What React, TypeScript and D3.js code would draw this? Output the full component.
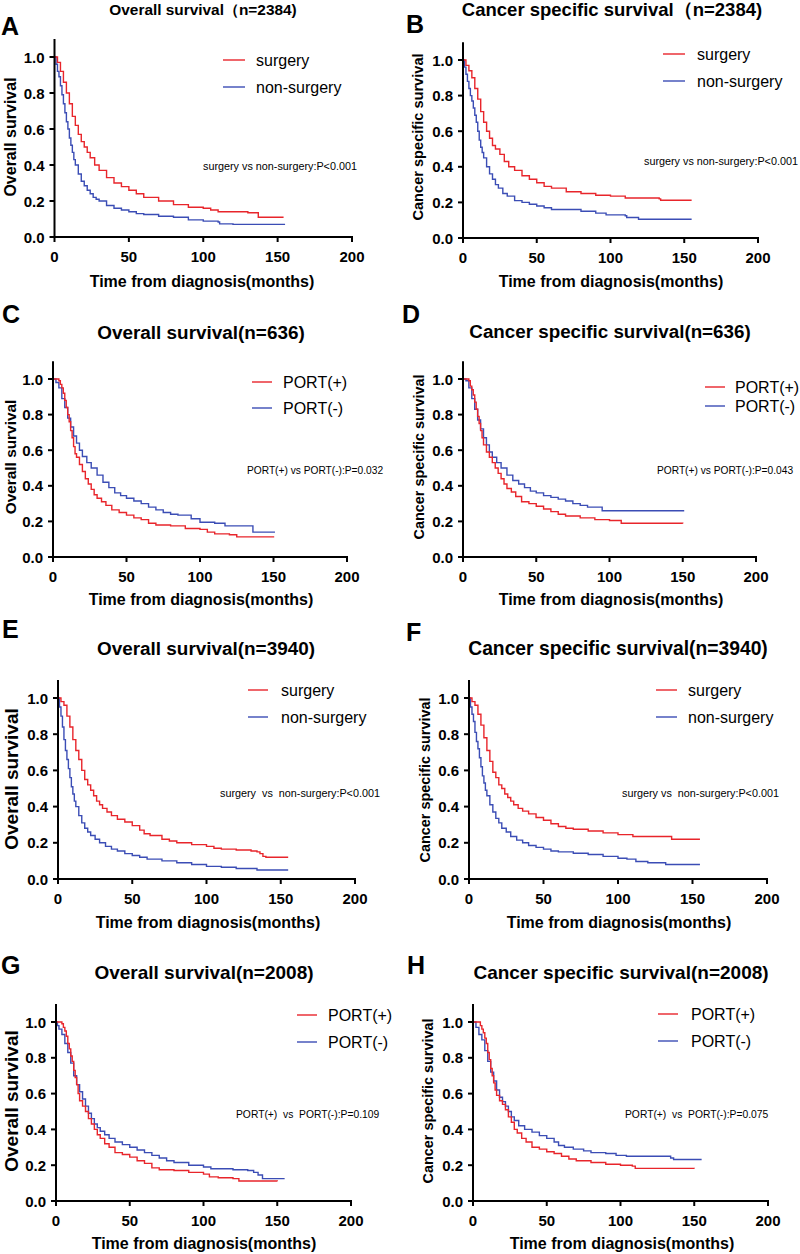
import React from "react";
import * as d3 from "d3";

type Pt = [number, number];

// ---------- Data (time in months, survival probability) ----------
const A_surgery: Pt[] = [[0,1],[2,0.97],[4,0.92],[6,0.86],[8,0.8],[10,0.74],[12,0.67],[14,0.62],[16,0.57],[18,0.53],[20,0.5],[22,0.47],[24,0.44],[27,0.4],[30,0.37],[35,0.33],[40,0.3],[45,0.28],[50,0.26],[55,0.24],[60,0.22],[70,0.2],[80,0.18],[90,0.165],[100,0.16],[105,0.15],[110,0.14],[120,0.14],[130,0.135],[137,0.11],[154,0.11]];
const A_non: Pt[] = [[0,1],[1,0.96],[2,0.92],[3,0.89],[4,0.84],[5,0.79],[6,0.74],[7,0.69],[8,0.64],[9,0.6],[10,0.55],[11,0.51],[12,0.47],[13,0.43],[14,0.4],[16,0.35],[18,0.31],[20,0.285],[22,0.26],[24,0.24],[26,0.22],[28,0.21],[30,0.2],[35,0.175],[40,0.16],[45,0.15],[50,0.14],[55,0.13],[60,0.125],[70,0.115],[80,0.11],[90,0.095],[100,0.088],[110,0.083],[111,0.073],[120,0.07],[155,0.07]];

const B_surgery: Pt[] = [[0,1],[2,0.97],[4,0.94],[6,0.9],[8,0.84],[10,0.78],[12,0.71],[14,0.65],[16,0.6],[18,0.56],[20,0.52],[22,0.5],[25,0.47],[28,0.43],[31,0.4],[35,0.38],[40,0.35],[45,0.33],[50,0.31],[55,0.29],[60,0.28],[70,0.26],[80,0.25],[90,0.24],[100,0.235],[110,0.225],[120,0.225],[133,0.22],[134,0.212],[155,0.212]];
const B_non: Pt[] = [[0,1],[1,0.96],[2,0.92],[3,0.88],[4,0.84],[5,0.8],[6,0.77],[7,0.73],[8,0.69],[9,0.65],[10,0.6],[11,0.55],[12,0.51],[13,0.48],[14,0.45],[16,0.4],[18,0.36],[20,0.33],[22,0.3],[24,0.28],[27,0.25],[30,0.235],[35,0.21],[40,0.2],[45,0.19],[50,0.18],[55,0.17],[60,0.16],[70,0.16],[80,0.15],[90,0.14],[97,0.13],[110,0.125],[111,0.115],[119,0.105],[155,0.105]];

const C_portPos: Pt[] = [[0,1],[3,1],[4,0.99],[5,0.97],[6,0.95],[7,0.92],[8,0.88],[9,0.84],[10,0.8],[11,0.76],[12,0.71],[13,0.67],[14,0.62],[15,0.58],[16,0.56],[18,0.52],[20,0.48],[22,0.44],[24,0.41],[26,0.38],[28,0.35],[30,0.33],[33,0.31],[36,0.29],[40,0.265],[45,0.25],[50,0.235],[55,0.22],[60,0.21],[65,0.19],[70,0.18],[80,0.175],[90,0.16],[100,0.155],[105,0.14],[110,0.13],[120,0.125],[125,0.113],[150,0.11]];
const C_portNeg: Pt[] = [[0,1],[2,0.98],[4,0.95],[6,0.89],[8,0.84],[10,0.78],[12,0.73],[14,0.68],[16,0.64],[18,0.6],[20,0.565],[23,0.53],[26,0.5],[30,0.46],[34,0.42],[38,0.39],[42,0.36],[46,0.345],[50,0.33],[55,0.315],[60,0.3],[65,0.28],[70,0.265],[75,0.25],[80,0.24],[85,0.235],[94,0.215],[100,0.195],[110,0.19],[117,0.175],[136,0.14],[151,0.14]];

const D_portPos: Pt[] = [[0,1],[3,1],[4,0.99],[5,0.96],[6,0.94],[7,0.91],[8,0.87],[9,0.83],[10,0.79],[11,0.75],[12,0.71],[13,0.67],[14,0.63],[16,0.59],[18,0.56],[20,0.53],[22,0.5],[24,0.47],[26,0.44],[28,0.41],[30,0.385],[33,0.365],[36,0.34],[40,0.31],[45,0.3],[50,0.285],[55,0.27],[60,0.255],[65,0.24],[70,0.23],[80,0.22],[90,0.21],[100,0.205],[108,0.19],[150,0.188]];
const D_portNeg: Pt[] = [[0,1],[2,0.99],[4,0.95],[6,0.89],[8,0.83],[10,0.77],[12,0.72],[14,0.67],[16,0.63],[18,0.59],[20,0.56],[23,0.53],[26,0.5],[30,0.46],[34,0.43],[38,0.41],[42,0.39],[46,0.37],[50,0.36],[55,0.345],[60,0.335],[65,0.325],[70,0.315],[75,0.3],[80,0.29],[85,0.28],[95,0.26],[151,0.26]];

const E_surgery: Pt[] = [[0,1],[2,0.98],[4,0.96],[6,0.9],[8,0.84],[10,0.77],[12,0.71],[14,0.66],[16,0.6],[18,0.55],[20,0.52],[22,0.49],[24,0.46],[26,0.43],[28,0.41],[30,0.39],[33,0.37],[36,0.35],[40,0.33],[45,0.315],[50,0.295],[55,0.27],[58,0.25],[62,0.24],[70,0.22],[75,0.21],[80,0.2],[90,0.19],[100,0.18],[105,0.17],[110,0.165],[120,0.16],[130,0.155],[134,0.15],[136,0.14],[138,0.125],[140,0.12],[155,0.12]];
const E_non: Pt[] = [[0,1],[1,0.95],[2,0.9],[3,0.84],[4,0.77],[5,0.71],[6,0.66],[7,0.61],[8,0.56],[9,0.51],[10,0.47],[11,0.43],[12,0.4],[14,0.35],[16,0.31],[18,0.28],[20,0.26],[22,0.24],[25,0.22],[28,0.2],[32,0.18],[36,0.165],[40,0.155],[45,0.14],[50,0.13],[55,0.12],[60,0.11],[70,0.1],[80,0.09],[90,0.08],[100,0.07],[110,0.065],[120,0.058],[134,0.05],[155,0.05]];

const F_surgery: Pt[] = [[0,1],[2,0.98],[4,0.96],[6,0.91],[8,0.85],[10,0.78],[12,0.71],[14,0.65],[16,0.59],[18,0.56],[20,0.52],[22,0.5],[24,0.47],[26,0.45],[28,0.43],[30,0.41],[33,0.39],[36,0.375],[40,0.36],[45,0.34],[50,0.325],[55,0.305],[60,0.29],[65,0.28],[70,0.275],[80,0.265],[90,0.255],[100,0.245],[110,0.235],[120,0.235],[133,0.235],[136,0.22],[155,0.22]];
const F_non: Pt[] = [[0,1],[1,0.95],[2,0.91],[3,0.87],[4,0.81],[5,0.76],[6,0.72],[7,0.67],[8,0.62],[9,0.57],[10,0.53],[11,0.49],[12,0.46],[14,0.41],[16,0.37],[18,0.335],[20,0.31],[22,0.28],[25,0.26],[28,0.235],[32,0.215],[36,0.2],[40,0.185],[45,0.175],[50,0.165],[55,0.155],[60,0.15],[70,0.142],[80,0.135],[90,0.125],[100,0.115],[106,0.11],[112,0.097],[120,0.09],[132,0.08],[155,0.08]];

const G_portPos: Pt[] = [[0,1],[3,1],[4,0.99],[5,0.97],[6,0.95],[7,0.92],[8,0.88],[9,0.85],[10,0.81],[11,0.78],[12,0.73],[13,0.69],[14,0.65],[15,0.6],[16,0.56],[18,0.53],[20,0.5],[22,0.46],[24,0.43],[26,0.4],[28,0.37],[30,0.35],[33,0.32],[36,0.3],[40,0.27],[45,0.26],[50,0.245],[55,0.225],[60,0.21],[65,0.185],[70,0.175],[80,0.17],[90,0.16],[100,0.15],[104,0.135],[110,0.13],[120,0.125],[124,0.112],[150,0.11]];
const G_portNeg: Pt[] = [[0,1],[1,0.98],[2,0.96],[4,0.93],[6,0.88],[8,0.83],[10,0.77],[12,0.7],[14,0.65],[16,0.61],[18,0.57],[20,0.53],[22,0.49],[24,0.46],[26,0.43],[28,0.41],[30,0.39],[33,0.37],[36,0.35],[40,0.33],[45,0.315],[50,0.3],[55,0.285],[60,0.27],[65,0.255],[70,0.24],[75,0.225],[80,0.215],[90,0.2],[100,0.19],[105,0.18],[120,0.175],[130,0.17],[134,0.16],[137,0.145],[140,0.125],[155,0.125]];

const H_portPos: Pt[] = [[0,1],[4,1],[5,0.98],[6,0.96],[7,0.94],[8,0.91],[9,0.88],[10,0.83],[11,0.79],[12,0.74],[13,0.7],[14,0.66],[15,0.62],[16,0.59],[18,0.56],[20,0.54],[22,0.51],[24,0.47],[26,0.44],[28,0.4],[30,0.38],[33,0.35],[36,0.33],[40,0.3],[45,0.29],[50,0.275],[55,0.265],[60,0.25],[65,0.235],[70,0.225],[80,0.215],[90,0.205],[100,0.2],[108,0.195],[110,0.182],[150,0.181]];
const H_portNeg: Pt[] = [[0,1],[2,0.97],[4,0.93],[6,0.9],[8,0.84],[10,0.78],[12,0.72],[14,0.67],[16,0.62],[18,0.58],[20,0.555],[22,0.53],[24,0.5],[26,0.47],[28,0.45],[31,0.42],[35,0.4],[40,0.385],[45,0.365],[50,0.35],[55,0.33],[58,0.31],[62,0.3],[68,0.29],[75,0.28],[80,0.27],[90,0.265],[97,0.255],[104,0.25],[126,0.25],[134,0.24],[136,0.232],[155,0.232]];

const X_TICKS = [0, 50, 100, 150, 200];
const Y_TICKS = [0, 0.2, 0.4, 0.6, 0.8, 1.0];

const SURGERY_NAMES = ["surgery", "non-surgery"];
const PORT_NAMES = ["PORT(+)", "PORT(-)"];

const RED = "#e8252b";
const BLUE = "#3b4db5";
const FONT = "'Liberation Sans', Arial, Helvetica, sans-serif";

type Cfg = {
  letter: string; lx: number; ly: number;
  title: string; tx: number; ty: number; tsize: number;
  ylab: string; ylx: number; yly: number; ylsize: number;
  xlx: number; xly: number;
  left: number; right: number; y1: number; y0: number;
  legX1: number; legX2: number; legTx: number; legYa: number; legYb: number;
  names: string[];
  ptext: string; px: number; py: number; psize: number;
  red: Pt[]; blue: Pt[];
};

const PANELS: Cfg[] = [
  { letter: "A", lx: 1, ly: 35, title: "Overall survival（n=2384)", tx: 203, ty: 15, tsize: 15.4,
    ylab: "Overall survival", ylx: 16, yly: 137, ylsize: 16,
    xlx: 202, xly: 287, left: 54.5, right: 352, y1: 57, y0: 237,
    legX1: 223, legX2: 245, legTx: 256, legYa: 60, legYb: 87, names: SURGERY_NAMES,
    ptext: "surgery vs non-surgery:P<0.001", px: 203, py: 170, psize: 10.8, red: A_surgery, blue: A_non },
  { letter: "B", lx: 406, ly: 33, title: "Cancer specific survival（n=2384)", tx: 612, ty: 16, tsize: 18.5,
    ylab: "Cancer specific survival", ylx: 423, yly: 137, ylsize: 14.6,
    xlx: 611, xly: 287, left: 463, right: 758, y1: 60, y0: 238,
    legX1: 663, legX2: 685, legTx: 697, legYa: 54, legYb: 81, names: SURGERY_NAMES,
    ptext: "surgery vs non-surgery:P<0.001", px: 644, py: 165, psize: 10.8, red: B_surgery, blue: B_non },
  { letter: "C", lx: 2, ly: 323, title: "Overall survival(n=636)", tx: 201, ty: 339, tsize: 18.9,
    ylab: "Overall survival", ylx: 16, yly: 457, ylsize: 15.4,
    xlx: 201, xly: 605, left: 53, right: 347, y1: 379, y0: 557,
    legX1: 252, legX2: 272, legTx: 283, legYa: 382, legYb: 408, names: PORT_NAMES,
    ptext: "PORT(+) vs PORT(-):P=0.032", px: 247, py: 474, psize: 10.2, red: C_portPos, blue: C_portNeg },
  { letter: "D", lx: 402, ly: 323, title: "Cancer specific survival(n=636)", tx: 610, ty: 338, tsize: 18.8,
    ylab: "Cancer specific survival", ylx: 424, yly: 457, ylsize: 14.4,
    xlx: 611, xly: 605, left: 463, right: 756, y1: 379, y0: 557,
    legX1: 705, legX2: 725, legTx: 735, legYa: 387, legYb: 406, names: PORT_NAMES,
    ptext: "PORT(+) vs PORT(-):P=0.043", px: 657, py: 474, psize: 10.2, red: D_portPos, blue: D_portNeg },
  { letter: "E", lx: 2, ly: 638, title: "Overall survival(n=3940)", tx: 206, ty: 655, tsize: 18.9,
    ylab: "Overall survival", ylx: 18, yly: 779, ylsize: 19,
    xlx: 208, xly: 928, left: 58, right: 355, y1: 698, y0: 879,
    legX1: 248, legX2: 268, legTx: 281, legYa: 690, legYb: 717, names: SURGERY_NAMES,
    ptext: "surgery  vs  non-surgery:P<0.001", px: 220, py: 797, psize: 10.8, red: E_surgery, blue: E_non },
  { letter: "F", lx: 406, ly: 641, title: "Cancer specific survival(n=3940)", tx: 618, ty: 655, tsize: 19.3,
    ylab: "Cancer specific survival", ylx: 430, yly: 780, ylsize: 14.4,
    xlx: 619, xly: 928, left: 469, right: 767, y1: 698, y0: 879,
    legX1: 656, legX2: 677, legTx: 688, legYa: 690, legYb: 717, names: SURGERY_NAMES,
    ptext: "surgery vs  non-surgery:P<0.001", px: 622, py: 797, psize: 10.8, red: F_surgery, blue: F_non },
  { letter: "G", lx: 1, ly: 974, title: "Overall survival(n=2008)", tx: 204, ty: 979, tsize: 19,
    ylab: "Overall survival", ylx: 18, yly: 1101, ylsize: 19,
    xlx: 204, xly: 1249, left: 56, right: 351, y1: 1022, y0: 1201,
    legX1: 297, legX2: 317, legTx: 328, legYa: 1015, legYb: 1042, names: PORT_NAMES,
    ptext: "PORT(+)  vs  PORT(-):P=0.109", px: 236, py: 1118, psize: 10.3, red: G_portPos, blue: G_portNeg },
  { letter: "H", lx: 407, ly: 974, title: "Cancer specific survival(n=2008)", tx: 621, ty: 979, tsize: 19,
    ylab: "Cancer specific survival", ylx: 433, yly: 1101, ylsize: 14.4,
    xlx: 622, xly: 1249, left: 473, right: 768, y1: 1022, y0: 1201,
    legX1: 658, legX2: 678, legTx: 691, legYa: 1014, legYb: 1041, names: PORT_NAMES,
    ptext: "PORT(+)  vs  PORT(-):P=0.075", px: 625, py: 1118, psize: 10.3, red: H_portPos, blue: H_portNeg },
];

function Panel({ c }: { c: Cfg }) {
  const x = d3.scaleLinear().domain([0, 200]).range([c.left, c.right]);
  const y = d3.scaleLinear().domain([0, 1]).range([c.y0, c.y1]);
  const line = d3.line<Pt>().x((d) => x(d[0])).y((d) => y(d[1])).curve(d3.curveStepAfter);
  const tickLen = 5;
  return (
    <g fontFamily={FONT}>
      <text x={c.lx} y={c.ly} fontSize={25} fontWeight="bold" fill="#000">{c.letter}</text>
      <text x={c.tx} y={c.ty} fontSize={c.tsize} fontWeight="bold" textAnchor="middle" fill="#000">{c.title}</text>
      <text transform={`translate(${c.ylx},${c.yly}) rotate(-90)`} fontSize={c.ylsize} fontWeight="bold" textAnchor="middle" fill="#000">{c.ylab}</text>
      <text x={c.xlx} y={c.xly} fontSize={16} fontWeight="bold" textAnchor="middle" fill="#000">Time from diagnosis(months)</text>

      {/* curves */}
      <path d={line(c.blue) || ""} fill="none" stroke={BLUE} strokeWidth={1.4} />
      <path d={line(c.red) || ""} fill="none" stroke={RED} strokeWidth={1.4} />

      {/* axes */}
      <line x1={x(0)} x2={x(0)} y1={y(1.1)} y2={y(0) + 1} stroke="#000" strokeWidth={2} />
      <line x1={x(0) - 1} x2={x(200) + 1} y1={y(0)} y2={y(0)} stroke="#000" strokeWidth={2} />
      {Y_TICKS.map((t) => (
        <g key={"y" + t}>
          <line x1={x(0) - tickLen} x2={x(0)} y1={y(t)} y2={y(t)} stroke="#000" strokeWidth={2} />
          <text x={x(0) - 10} y={y(t) + 5.5} fontSize={15} fontWeight="bold" textAnchor="end" fill="#000">{t.toFixed(1)}</text>
        </g>
      ))}
      {X_TICKS.map((t) => (
        <g key={"x" + t}>
          <line x1={x(t)} x2={x(t)} y1={y(0)} y2={y(0) + tickLen} stroke="#000" strokeWidth={2} />
          <text x={x(t)} y={y(0) + 25} fontSize={15} fontWeight="bold" textAnchor="middle" fill="#000">{t}</text>
        </g>
      ))}

      {/* legend */}
      <line x1={c.legX1} x2={c.legX2} y1={c.legYa} y2={c.legYa} stroke={RED} strokeWidth={1.4} />
      <text x={c.legTx} y={c.legYa + 5.5} fontSize={16} fill="#000">{c.names[0]}</text>
      <line x1={c.legX1} x2={c.legX2} y1={c.legYb} y2={c.legYb} stroke={BLUE} strokeWidth={1.4} />
      <text x={c.legTx} y={c.legYb + 5.5} fontSize={16} fill="#000">{c.names[1]}</text>

      <text x={c.px} y={c.py} fontSize={c.psize} fill="#000" style={{ whiteSpace: "pre" }}>{c.ptext}</text>
    </g>
  );
}

export default function App() {
  return (
    <svg width={800} height={1254} style={{ position: "absolute", left: 0, top: 0, background: "#fff" }}>
      <rect x={0} y={0} width={800} height={1254} fill="#fff" />
      {PANELS.map((c) => <Panel key={c.letter} c={c} />)}
    </svg>
  );
}
